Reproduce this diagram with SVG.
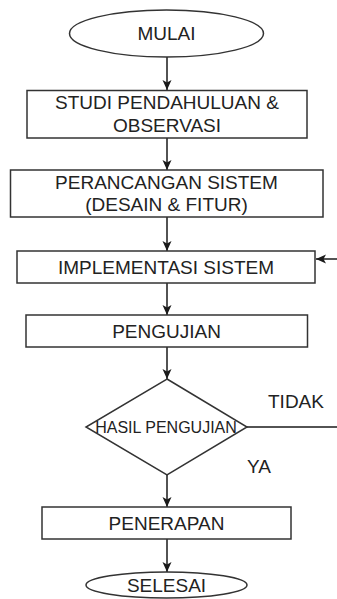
<svg xmlns="http://www.w3.org/2000/svg" width="337" height="599" viewBox="0 0 337 599">
<style>
.shape{fill:#ffffff;stroke:#333333;stroke-width:1.5}
.conn{fill:none;stroke:#1a1a1a;stroke-width:1.5}
.t{font-family:"Liberation Sans",Arial,sans-serif;font-size:19px;fill:#222222;text-anchor:middle}
.ts{font-family:"Liberation Sans",Arial,sans-serif;font-size:16px;fill:#222222;text-anchor:middle}
.tl{font-family:"Liberation Sans",Arial,sans-serif;font-size:19px;fill:#222222;text-anchor:start}
</style>
<defs>
<marker id="arr" markerUnits="userSpaceOnUse" markerWidth="12" markerHeight="10" refX="10" refY="4.5" orient="auto">
<path d="M0,0 L10,4.5 L0,9 L2.5,4.5 z" fill="#1a1a1a"/>
</marker>
</defs>
<rect width="337" height="599" fill="#ffffff"/>
<g id="connectors">
<line class="conn" x1="167" y1="57" x2="167" y2="90" marker-end="url(#arr)"/>
<line class="conn" x1="167" y1="138" x2="167" y2="170" marker-end="url(#arr)"/>
<line class="conn" x1="167" y1="217" x2="167" y2="251" marker-end="url(#arr)"/>
<line class="conn" x1="167" y1="283" x2="167" y2="315" marker-end="url(#arr)"/>
<line class="conn" x1="167" y1="347" x2="167" y2="379" marker-end="url(#arr)"/>
<line class="conn" x1="167" y1="475" x2="167" y2="507" marker-end="url(#arr)"/>
<line class="conn" x1="167" y1="539" x2="167" y2="572" marker-end="url(#arr)"/>
<line class="conn" x1="247" y1="427" x2="337" y2="427"/>
<line class="conn" x1="337" y1="259" x2="316" y2="259" marker-end="url(#arr)"/>
<text class="tl" x="268" y="408">TIDAK</text>
<text class="tl" x="247" y="473">YA</text>
</g>
<g id="mulai">
<ellipse class="shape" cx="166.5" cy="33.5" rx="97" ry="23.5"/>
<text class="t" x="166.5" y="40">MULAI</text>
</g>
<g id="studi">
<rect class="shape" x="27" y="90.5" width="280" height="47.5"/>
<text class="t" x="167" y="109">STUDI PENDAHULUAN &amp;</text>
<text class="t" x="167" y="132">OBSERVASI</text>
</g>
<g id="perancangan">
<rect class="shape" x="10.5" y="170" width="312.5" height="47"/>
<text class="t" x="166.5" y="189">PERANCANGAN SISTEM</text>
<text class="t" x="166.5" y="211">(DESAIN &amp; FITUR)</text>
</g>
<g id="implementasi">
<rect class="shape" x="17" y="251" width="298" height="32"/>
<text class="t" x="166" y="273.5">IMPLEMENTASI SISTEM</text>
</g>
<g id="pengujian">
<rect class="shape" x="26" y="315" width="281.5" height="32"/>
<text class="t" x="166.5" y="337.5">PENGUJIAN</text>
</g>
<g id="hasil">
<polygon class="shape" points="167,379 247,427 167,475 86,427"/>
<text class="ts" x="166" y="433">HASIL PENGUJIAN</text>
</g>
<g id="penerapan">
<rect class="shape" x="42" y="507" width="249" height="32"/>
<text class="t" x="166.5" y="529.5">PENERAPAN</text>
</g>
<g id="selesai">
<ellipse class="shape" cx="166.5" cy="585" rx="80.5" ry="13"/>
<text class="t" x="166.5" y="592">SELESAI</text>
</g>
</svg>
